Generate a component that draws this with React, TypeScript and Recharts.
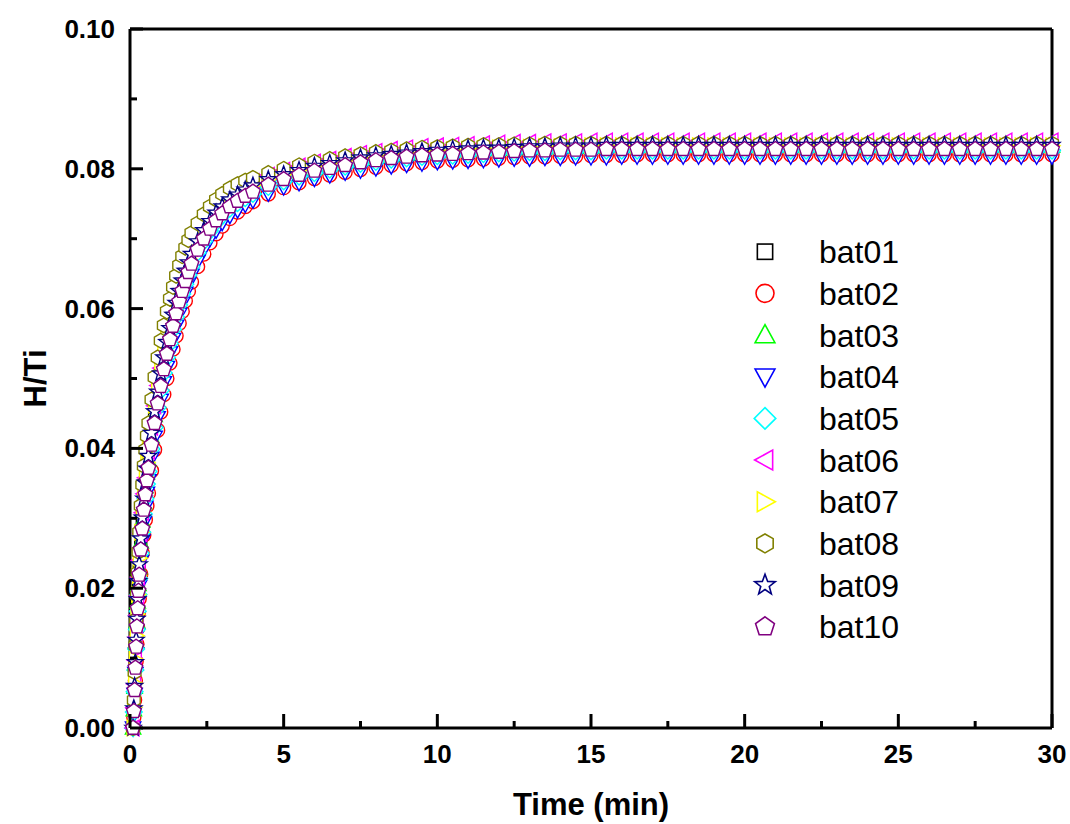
import { Legend, ReferenceLine, Scatter, ScatterChart, XAxis, YAxis } from "recharts";

// sampling times (min), shared by every batch
const times = [
  0.1, 0.125, 0.15, 0.175, 0.2, 0.225, 0.25, 0.275, 0.3, 0.35,
  0.4, 0.45, 0.5, 0.55, 0.6, 0.7, 0.8, 0.9, 1.0, 1.1,
  1.2, 1.3, 1.4, 1.5, 1.6, 1.7, 1.8, 1.9, 2.0, 2.2,
  2.4, 2.6, 2.8, 3.0, 3.25, 3.5, 3.75, 4.0, 4.5, 5.0,
  5.5, 6, 6.5, 7, 7.5, 8, 8.5, 9, 9.5, 10,
  10.5, 11, 11.5, 12, 12.5, 13, 13.5, 14, 14.5, 15,
  15.5, 16, 16.5, 17, 17.5, 18, 18.5, 19, 19.5, 20,
  20.5, 21, 21.5, 22, 22.5, 23, 23.5, 24, 24.5, 25,
  25.5, 26, 26.5, 27, 27.5, 28, 28.5, 29, 29.5, 30,
];

const bat01 = [
  0.0000, 0.0025, 0.0056, 0.0088, 0.0120, 0.0149, 0.0175, 0.0201, 0.0224, 0.0260,
  0.0290, 0.0317, 0.0339, 0.0360, 0.0378, 0.0411, 0.0442, 0.0470, 0.0495, 0.0519,
  0.0541, 0.0561, 0.0580, 0.0598, 0.0615, 0.0630, 0.0644, 0.0657, 0.0669, 0.0688,
  0.0704, 0.0718, 0.0730, 0.0740, 0.0750, 0.0757, 0.0764, 0.0770, 0.0779, 0.0787,
  0.0793, 0.0799, 0.0804, 0.0808, 0.0811, 0.0814, 0.0817, 0.0819, 0.0821, 0.0823,
  0.0824, 0.0825, 0.0826, 0.0826, 0.0827, 0.0828, 0.0828, 0.0829, 0.0829, 0.0829,
  0.0830, 0.0830, 0.0830, 0.0830, 0.0830, 0.0830, 0.0830, 0.0830, 0.0830, 0.0830,
  0.0830, 0.0830, 0.0830, 0.0830, 0.0830, 0.0830, 0.0830, 0.0830, 0.0830, 0.0830,
  0.0830, 0.0830, 0.0830, 0.0830, 0.0830, 0.0830, 0.0830, 0.0830, 0.0830, 0.0830,
];
const bat02 = [
  0.0000, 0.0015, 0.0040, 0.0068, 0.0095, 0.0120, 0.0143, 0.0165, 0.0185, 0.0220,
  0.0250, 0.0276, 0.0298, 0.0318, 0.0336, 0.0368, 0.0398, 0.0426, 0.0452, 0.0477,
  0.0500, 0.0522, 0.0542, 0.0561, 0.0579, 0.0596, 0.0611, 0.0625, 0.0638, 0.0660,
  0.0678, 0.0694, 0.0707, 0.0718, 0.0729, 0.0738, 0.0746, 0.0753, 0.0764, 0.0773,
  0.0780, 0.0786, 0.0791, 0.0795, 0.0799, 0.0802, 0.0805, 0.0807, 0.0809, 0.0811,
  0.0812, 0.0813, 0.0814, 0.0815, 0.0816, 0.0817, 0.0817, 0.0818, 0.0818, 0.0819,
  0.0819, 0.0819, 0.0820, 0.0820, 0.0820, 0.0820, 0.0820, 0.0820, 0.0820, 0.0820,
  0.0820, 0.0820, 0.0820, 0.0820, 0.0820, 0.0820, 0.0820, 0.0820, 0.0820, 0.0820,
  0.0820, 0.0820, 0.0820, 0.0820, 0.0820, 0.0820, 0.0820, 0.0820, 0.0820, 0.0820,
];
const bat03 = [
  0.0000, 0.0026, 0.0058, 0.0091, 0.0123, 0.0152, 0.0180, 0.0205, 0.0229, 0.0266,
  0.0296, 0.0322, 0.0345, 0.0365, 0.0383, 0.0416, 0.0447, 0.0476, 0.0501, 0.0525,
  0.0546, 0.0567, 0.0585, 0.0603, 0.0620, 0.0635, 0.0649, 0.0662, 0.0673, 0.0692,
  0.0708, 0.0722, 0.0733, 0.0743, 0.0753, 0.0760, 0.0767, 0.0773, 0.0782, 0.0790,
  0.0796, 0.0801, 0.0806, 0.0810, 0.0814, 0.0817, 0.0819, 0.0821, 0.0823, 0.0825,
  0.0826, 0.0827, 0.0828, 0.0828, 0.0829, 0.0830, 0.0830, 0.0831, 0.0831, 0.0831,
  0.0832, 0.0832, 0.0832, 0.0832, 0.0832, 0.0832, 0.0832, 0.0832, 0.0832, 0.0832,
  0.0832, 0.0832, 0.0832, 0.0832, 0.0832, 0.0832, 0.0832, 0.0832, 0.0832, 0.0832,
  0.0832, 0.0832, 0.0832, 0.0832, 0.0832, 0.0832, 0.0832, 0.0832, 0.0832, 0.0832,
];
const bat04 = [
  0.0000, 0.0020, 0.0048, 0.0078, 0.0106, 0.0133, 0.0158, 0.0181, 0.0203, 0.0238,
  0.0268, 0.0294, 0.0316, 0.0336, 0.0354, 0.0386, 0.0416, 0.0444, 0.0469, 0.0494,
  0.0516, 0.0537, 0.0556, 0.0575, 0.0592, 0.0608, 0.0622, 0.0636, 0.0648, 0.0668,
  0.0685, 0.0700, 0.0712, 0.0723, 0.0733, 0.0741, 0.0749, 0.0755, 0.0765, 0.0774,
  0.0780, 0.0786, 0.0791, 0.0795, 0.0798, 0.0801, 0.0804, 0.0806, 0.0808, 0.0810,
  0.0811, 0.0812, 0.0813, 0.0814, 0.0815, 0.0815, 0.0816, 0.0816, 0.0817, 0.0817,
  0.0817, 0.0818, 0.0818, 0.0818, 0.0818, 0.0818, 0.0818, 0.0818, 0.0818, 0.0818,
  0.0818, 0.0818, 0.0818, 0.0818, 0.0818, 0.0818, 0.0818, 0.0818, 0.0818, 0.0818,
  0.0818, 0.0818, 0.0818, 0.0818, 0.0818, 0.0818, 0.0818, 0.0818, 0.0818, 0.0818,
];
const bat05 = [
  0.0000, 0.0023, 0.0052, 0.0083, 0.0113, 0.0141, 0.0167, 0.0191, 0.0214, 0.0250,
  0.0280, 0.0306, 0.0328, 0.0349, 0.0367, 0.0399, 0.0430, 0.0458, 0.0483, 0.0508,
  0.0530, 0.0550, 0.0570, 0.0588, 0.0605, 0.0621, 0.0635, 0.0648, 0.0660, 0.0680,
  0.0696, 0.0711, 0.0723, 0.0733, 0.0743, 0.0751, 0.0758, 0.0764, 0.0774, 0.0782,
  0.0789, 0.0794, 0.0799, 0.0803, 0.0807, 0.0810, 0.0813, 0.0815, 0.0817, 0.0818,
  0.0819, 0.0820, 0.0821, 0.0822, 0.0823, 0.0824, 0.0824, 0.0825, 0.0825, 0.0825,
  0.0826, 0.0826, 0.0826, 0.0826, 0.0826, 0.0826, 0.0826, 0.0826, 0.0826, 0.0826,
  0.0826, 0.0826, 0.0826, 0.0826, 0.0826, 0.0826, 0.0826, 0.0826, 0.0826, 0.0826,
  0.0826, 0.0826, 0.0826, 0.0826, 0.0826, 0.0826, 0.0826, 0.0826, 0.0826, 0.0826,
];
const bat06 = [
  0.0000, 0.0029, 0.0063, 0.0097, 0.0130, 0.0161, 0.0189, 0.0216, 0.0240, 0.0278,
  0.0308, 0.0335, 0.0358, 0.0378, 0.0396, 0.0430, 0.0461, 0.0490, 0.0515, 0.0539,
  0.0560, 0.0580, 0.0599, 0.0617, 0.0633, 0.0648, 0.0662, 0.0674, 0.0686, 0.0703,
  0.0719, 0.0732, 0.0744, 0.0753, 0.0763, 0.0770, 0.0777, 0.0782, 0.0791, 0.0798,
  0.0804, 0.0810, 0.0814, 0.0818, 0.0822, 0.0825, 0.0828, 0.0830, 0.0832, 0.0833,
  0.0834, 0.0835, 0.0836, 0.0837, 0.0838, 0.0838, 0.0839, 0.0839, 0.0839, 0.0840,
  0.0840, 0.0840, 0.0840, 0.0840, 0.0840, 0.0840, 0.0840, 0.0840, 0.0840, 0.0840,
  0.0840, 0.0840, 0.0840, 0.0840, 0.0840, 0.0840, 0.0840, 0.0840, 0.0840, 0.0840,
  0.0840, 0.0840, 0.0840, 0.0840, 0.0840, 0.0840, 0.0840, 0.0840, 0.0840, 0.0840,
];
const bat07 = [
  0.0000, 0.0030, 0.0064, 0.0098, 0.0132, 0.0163, 0.0191, 0.0218, 0.0243, 0.0280,
  0.0310, 0.0337, 0.0359, 0.0380, 0.0398, 0.0431, 0.0462, 0.0490, 0.0515, 0.0539,
  0.0560, 0.0580, 0.0598, 0.0615, 0.0631, 0.0646, 0.0659, 0.0672, 0.0683, 0.0700,
  0.0715, 0.0728, 0.0739, 0.0749, 0.0758, 0.0765, 0.0771, 0.0777, 0.0785, 0.0792,
  0.0798, 0.0804, 0.0808, 0.0812, 0.0816, 0.0819, 0.0821, 0.0823, 0.0825, 0.0826,
  0.0827, 0.0828, 0.0829, 0.0830, 0.0831, 0.0831, 0.0832, 0.0832, 0.0832, 0.0833,
  0.0833, 0.0833, 0.0833, 0.0833, 0.0833, 0.0833, 0.0833, 0.0833, 0.0833, 0.0833,
  0.0833, 0.0833, 0.0833, 0.0833, 0.0833, 0.0833, 0.0833, 0.0833, 0.0833, 0.0833,
  0.0833, 0.0833, 0.0833, 0.0833, 0.0833, 0.0833, 0.0833, 0.0833, 0.0833, 0.0833,
];
const bat08 = [
  0.0000, 0.0040, 0.0080, 0.0118, 0.0155, 0.0190, 0.0222, 0.0252, 0.0280, 0.0318,
  0.0348, 0.0375, 0.0398, 0.0418, 0.0436, 0.0470, 0.0502, 0.0530, 0.0554, 0.0576,
  0.0596, 0.0614, 0.0631, 0.0647, 0.0662, 0.0675, 0.0687, 0.0698, 0.0708, 0.0722,
  0.0735, 0.0746, 0.0756, 0.0764, 0.0772, 0.0778, 0.0783, 0.0787, 0.0794, 0.0800,
  0.0805, 0.0810, 0.0814, 0.0818, 0.0821, 0.0824, 0.0826, 0.0828, 0.0830, 0.0831,
  0.0832, 0.0833, 0.0834, 0.0834, 0.0835, 0.0835, 0.0836, 0.0836, 0.0836, 0.0836,
  0.0836, 0.0836, 0.0836, 0.0836, 0.0836, 0.0836, 0.0836, 0.0836, 0.0836, 0.0836,
  0.0836, 0.0836, 0.0836, 0.0836, 0.0836, 0.0836, 0.0836, 0.0836, 0.0836, 0.0836,
  0.0836, 0.0836, 0.0836, 0.0836, 0.0836, 0.0836, 0.0836, 0.0836, 0.0836, 0.0836,
];
const bat09 = [
  0.0000, 0.0028, 0.0060, 0.0094, 0.0126, 0.0156, 0.0184, 0.0210, 0.0234, 0.0271,
  0.0301, 0.0328, 0.0351, 0.0371, 0.0389, 0.0422, 0.0453, 0.0481, 0.0507, 0.0530,
  0.0552, 0.0572, 0.0591, 0.0608, 0.0625, 0.0640, 0.0654, 0.0666, 0.0678, 0.0696,
  0.0712, 0.0725, 0.0737, 0.0746, 0.0756, 0.0763, 0.0770, 0.0776, 0.0785, 0.0792,
  0.0798, 0.0804, 0.0808, 0.0812, 0.0816, 0.0819, 0.0821, 0.0823, 0.0825, 0.0827,
  0.0828, 0.0829, 0.0830, 0.0830, 0.0831, 0.0832, 0.0832, 0.0833, 0.0833, 0.0833,
  0.0834, 0.0834, 0.0834, 0.0834, 0.0834, 0.0834, 0.0834, 0.0834, 0.0834, 0.0834,
  0.0834, 0.0834, 0.0834, 0.0834, 0.0834, 0.0834, 0.0834, 0.0834, 0.0834, 0.0834,
  0.0834, 0.0834, 0.0834, 0.0834, 0.0834, 0.0834, 0.0834, 0.0834, 0.0834, 0.0834,
];
const bat10 = [
  0.0000, 0.0024, 0.0054, 0.0086, 0.0116, 0.0145, 0.0171, 0.0196, 0.0219, 0.0255,
  0.0285, 0.0312, 0.0334, 0.0354, 0.0372, 0.0405, 0.0436, 0.0464, 0.0489, 0.0513,
  0.0535, 0.0556, 0.0575, 0.0593, 0.0610, 0.0625, 0.0639, 0.0652, 0.0664, 0.0684,
  0.0700, 0.0714, 0.0726, 0.0736, 0.0746, 0.0754, 0.0761, 0.0767, 0.0777, 0.0785,
  0.0791, 0.0797, 0.0801, 0.0805, 0.0809, 0.0812, 0.0815, 0.0817, 0.0819, 0.0820,
  0.0821, 0.0822, 0.0823, 0.0824, 0.0825, 0.0826, 0.0826, 0.0827, 0.0827, 0.0827,
  0.0828, 0.0828, 0.0828, 0.0828, 0.0828, 0.0828, 0.0828, 0.0828, 0.0828, 0.0828,
  0.0828, 0.0828, 0.0828, 0.0828, 0.0828, 0.0828, 0.0828, 0.0828, 0.0828, 0.0828,
  0.0828, 0.0828, 0.0828, 0.0828, 0.0828, 0.0828, 0.0828, 0.0828, 0.0828, 0.0828,
];

const names = ["bat01", "bat02", "bat03", "bat04", "bat05", "bat06", "bat07", "bat08", "bat09", "bat10"];
const xTicks = [0, 2.5, 5, 7.5, 10, 12.5, 15, 17.5, 20, 22.5, 25, 27.5, 30];
const yTicks = [0, 0.01, 0.02, 0.03, 0.04, 0.05, 0.06, 0.07, 0.08, 0.09, 0.1];

type Kind = "square" | "circle" | "up" | "down" | "diamond" | "left" | "right" | "hexagon" | "star" | "pentagon";

const series: { name: string; color: string; kind: Kind; values: number[] }[] = [
  { name: names[0], color: "#000000", kind: "square", values: bat01 },
  { name: names[1], color: "#FF0000", kind: "circle", values: bat02 },
  { name: names[2], color: "#00FF00", kind: "up", values: bat03 },
  { name: names[3], color: "#0000FF", kind: "down", values: bat04 },
  { name: names[4], color: "#00FFFF", kind: "diamond", values: bat05 },
  { name: names[5], color: "#FF00FF", kind: "left", values: bat06 },
  { name: names[6], color: "#FFFF00", kind: "right", values: bat07 },
  { name: names[7], color: "#808000", kind: "hexagon", values: bat08 },
  { name: names[8], color: "#000080", kind: "star", values: bat09 },
  { name: names[9], color: "#800080", kind: "pentagon", values: bat10 },
];

const FONT = "'Liberation Sans', Arial, sans-serif";
const Y_MARGIN = 15;
const X_MARGIN = 16;

function polar(n: number, rad: number, start = -90) {
  const out: number[][] = [];
  for (let k = 0; k < n; k++) {
    const a = ((start + (360 / n) * k) * Math.PI) / 180;
    out.push([rad * Math.cos(a), rad * Math.sin(a)]);
  }
  return out;
}

function shapePoints(kind: Kind, r: number): number[][] {
  switch (kind) {
    case "up":
      return [[0, -1.15 * r], [1.1 * r, 0.85 * r], [-1.1 * r, 0.85 * r]];
    case "down":
      return [[0, 1.15 * r], [1.1 * r, -0.85 * r], [-1.1 * r, -0.85 * r]];
    case "left":
      return [[-1.15 * r, 0], [0.85 * r, -1.1 * r], [0.85 * r, 1.1 * r]];
    case "right":
      return [[1.15 * r, 0], [-0.85 * r, -1.1 * r], [-0.85 * r, 1.1 * r]];
    case "diamond":
      return [[0, -1.2 * r], [1.2 * r, 0], [0, 1.2 * r], [-1.2 * r, 0]];
    case "hexagon":
      return polar(6, 1.05 * r);
    case "pentagon":
      return polar(5, 1.1 * r);
    case "star": {
      const outer = polar(5, 1.2 * r);
      const inner = polar(5, 0.5 * r, -54);
      const pts: number[][] = [];
      for (let k = 0; k < 5; k++) pts.push(outer[k], inner[k]);
      return pts;
    }
    default:
      return [];
  }
}

function Marker({ kind, cx, cy, r, color, sw }: { kind: Kind; cx: number; cy: number; r: number; color: string; sw: number }) {
  const style = { fill: "#FFFFFF", stroke: color, strokeWidth: sw };
  if (kind === "circle") return <circle cx={cx} cy={cy} r={r} {...style} />;
  if (kind === "square") {
    const s = 0.85 * r;
    return <rect x={cx - s} y={cy - s} width={2 * s} height={2 * s} {...style} />;
  }
  const pts = shapePoints(kind, r)
    .map(([dx, dy]) => `${cx + dx},${cy + dy}`)
    .join(" ");
  return <polygon points={pts} {...style} />;
}

function YTick(props: any) {
  const { x, y, payload } = props;
  const v = payload.value as number;
  const major = Math.round(v * 100) % 2 === 0;
  const ax = x + Y_MARGIN;
  return (
    <g>
      <line x1={ax} x2={ax + (major ? 13 : 7)} y1={y} y2={y} stroke="#000" strokeWidth={3} />
      {major && (
        <text x={x} y={y + 9} textAnchor="end" fontSize={26} fontWeight="bold" fontFamily={FONT} fill="#000">
          {v.toFixed(2)}
        </text>
      )}
    </g>
  );
}

function XTick(props: any) {
  const { x, y, payload } = props;
  const v = payload.value as number;
  const major = v % 5 === 0;
  const ay = y - X_MARGIN;
  return (
    <g>
      <line x1={x} x2={x} y1={ay} y2={ay - (major ? 14 : 7)} stroke="#000" strokeWidth={3} />
      {major && (
        <text x={x} y={y + 19} textAnchor="middle" fontSize={26} fontWeight="bold" fontFamily={FONT} fill="#000">
          {v}
        </text>
      )}
    </g>
  );
}

function LegendBox() {
  return (
    <svg width={220} height={420}>
      {series.map((s, i) => {
        const cy = 26.7 + i * 41.67;
        return (
          <g key={s.name}>
            <Marker kind={s.kind} cx={25} cy={cy} r={9} color={s.color} sw={1.6} />
            <text x={79} y={cy + 11.5} fontSize={32} fontFamily={FONT} fill="#000">
              {s.name}
            </text>
          </g>
        );
      })}
    </svg>
  );
}

export default function App() {
  return (
    <div style={{ position: "absolute", left: 0, top: 0, background: "#fff", fontFamily: FONT }}>
      <ScatterChart width={1070} height={824} margin={{ top: 29, right: 18, bottom: 0, left: 0 }}>
        <XAxis
          type="number"
          dataKey="t"
          domain={[0, 30]}
          ticks={xTicks}
          interval={0}
          height={96}
          tickSize={0}
          tickMargin={X_MARGIN}
          tickLine={false}
          axisLine={{ stroke: "#000", strokeWidth: 3 }}
          tick={<XTick />}
          label={{
            content: (p: any) => {
              const vb = p.viewBox || { x: 130, y: 728, width: 922, height: 96 };
              return (
                <text x={vb.x + vb.width / 2} y={vb.y + vb.height - 9} textAnchor="middle" fontSize={31} fontWeight="bold" fontFamily={FONT} fill="#000">
                  Time (min)
                </text>
              );
            },
          }}
        />
        <YAxis
          type="number"
          dataKey="v"
          domain={[0, 0.1]}
          ticks={yTicks}
          interval={0}
          width={130}
          tickSize={0}
          tickMargin={Y_MARGIN}
          tickLine={false}
          axisLine={{ stroke: "#000", strokeWidth: 3 }}
          tick={<YTick />}
          label={{
            content: (p: any) => {
              const vb = p.viewBox || { x: 0, y: 29, width: 130, height: 699 };
              const cx = vb.x + 46;
              const cy = vb.y + vb.height / 2;
              return (
                <text transform={`translate(${cx},${cy}) rotate(-90)`} textAnchor="middle" fontSize={31} fontWeight="bold" fontFamily={FONT} fill="#000">
                  H/Ti
                </text>
              );
            },
          }}
        />
        <ReferenceLine y={0.1} stroke="#000" strokeWidth={3} />
        <ReferenceLine x={30} stroke="#000" strokeWidth={3} />
        {series.map((s) => (
          <Scatter
            key={s.name}
            name={s.name}
            data={times.map((t, i) => ({ t, v: s.values[i] }))}
            isAnimationActive={false}
            shape={(p: any) => <Marker kind={s.kind} cx={p.cx} cy={p.cy} r={7} color={s.color} sw={1.4} />}
          />
        ))}
        <Legend
          layout="vertical"
          align="center"
          verticalAlign="middle"
          wrapperStyle={{ position: "absolute", left: 740, top: 225, width: 220, height: 420 }}
          content={() => <LegendBox />}
        />
      </ScatterChart>
    </div>
  );
}
